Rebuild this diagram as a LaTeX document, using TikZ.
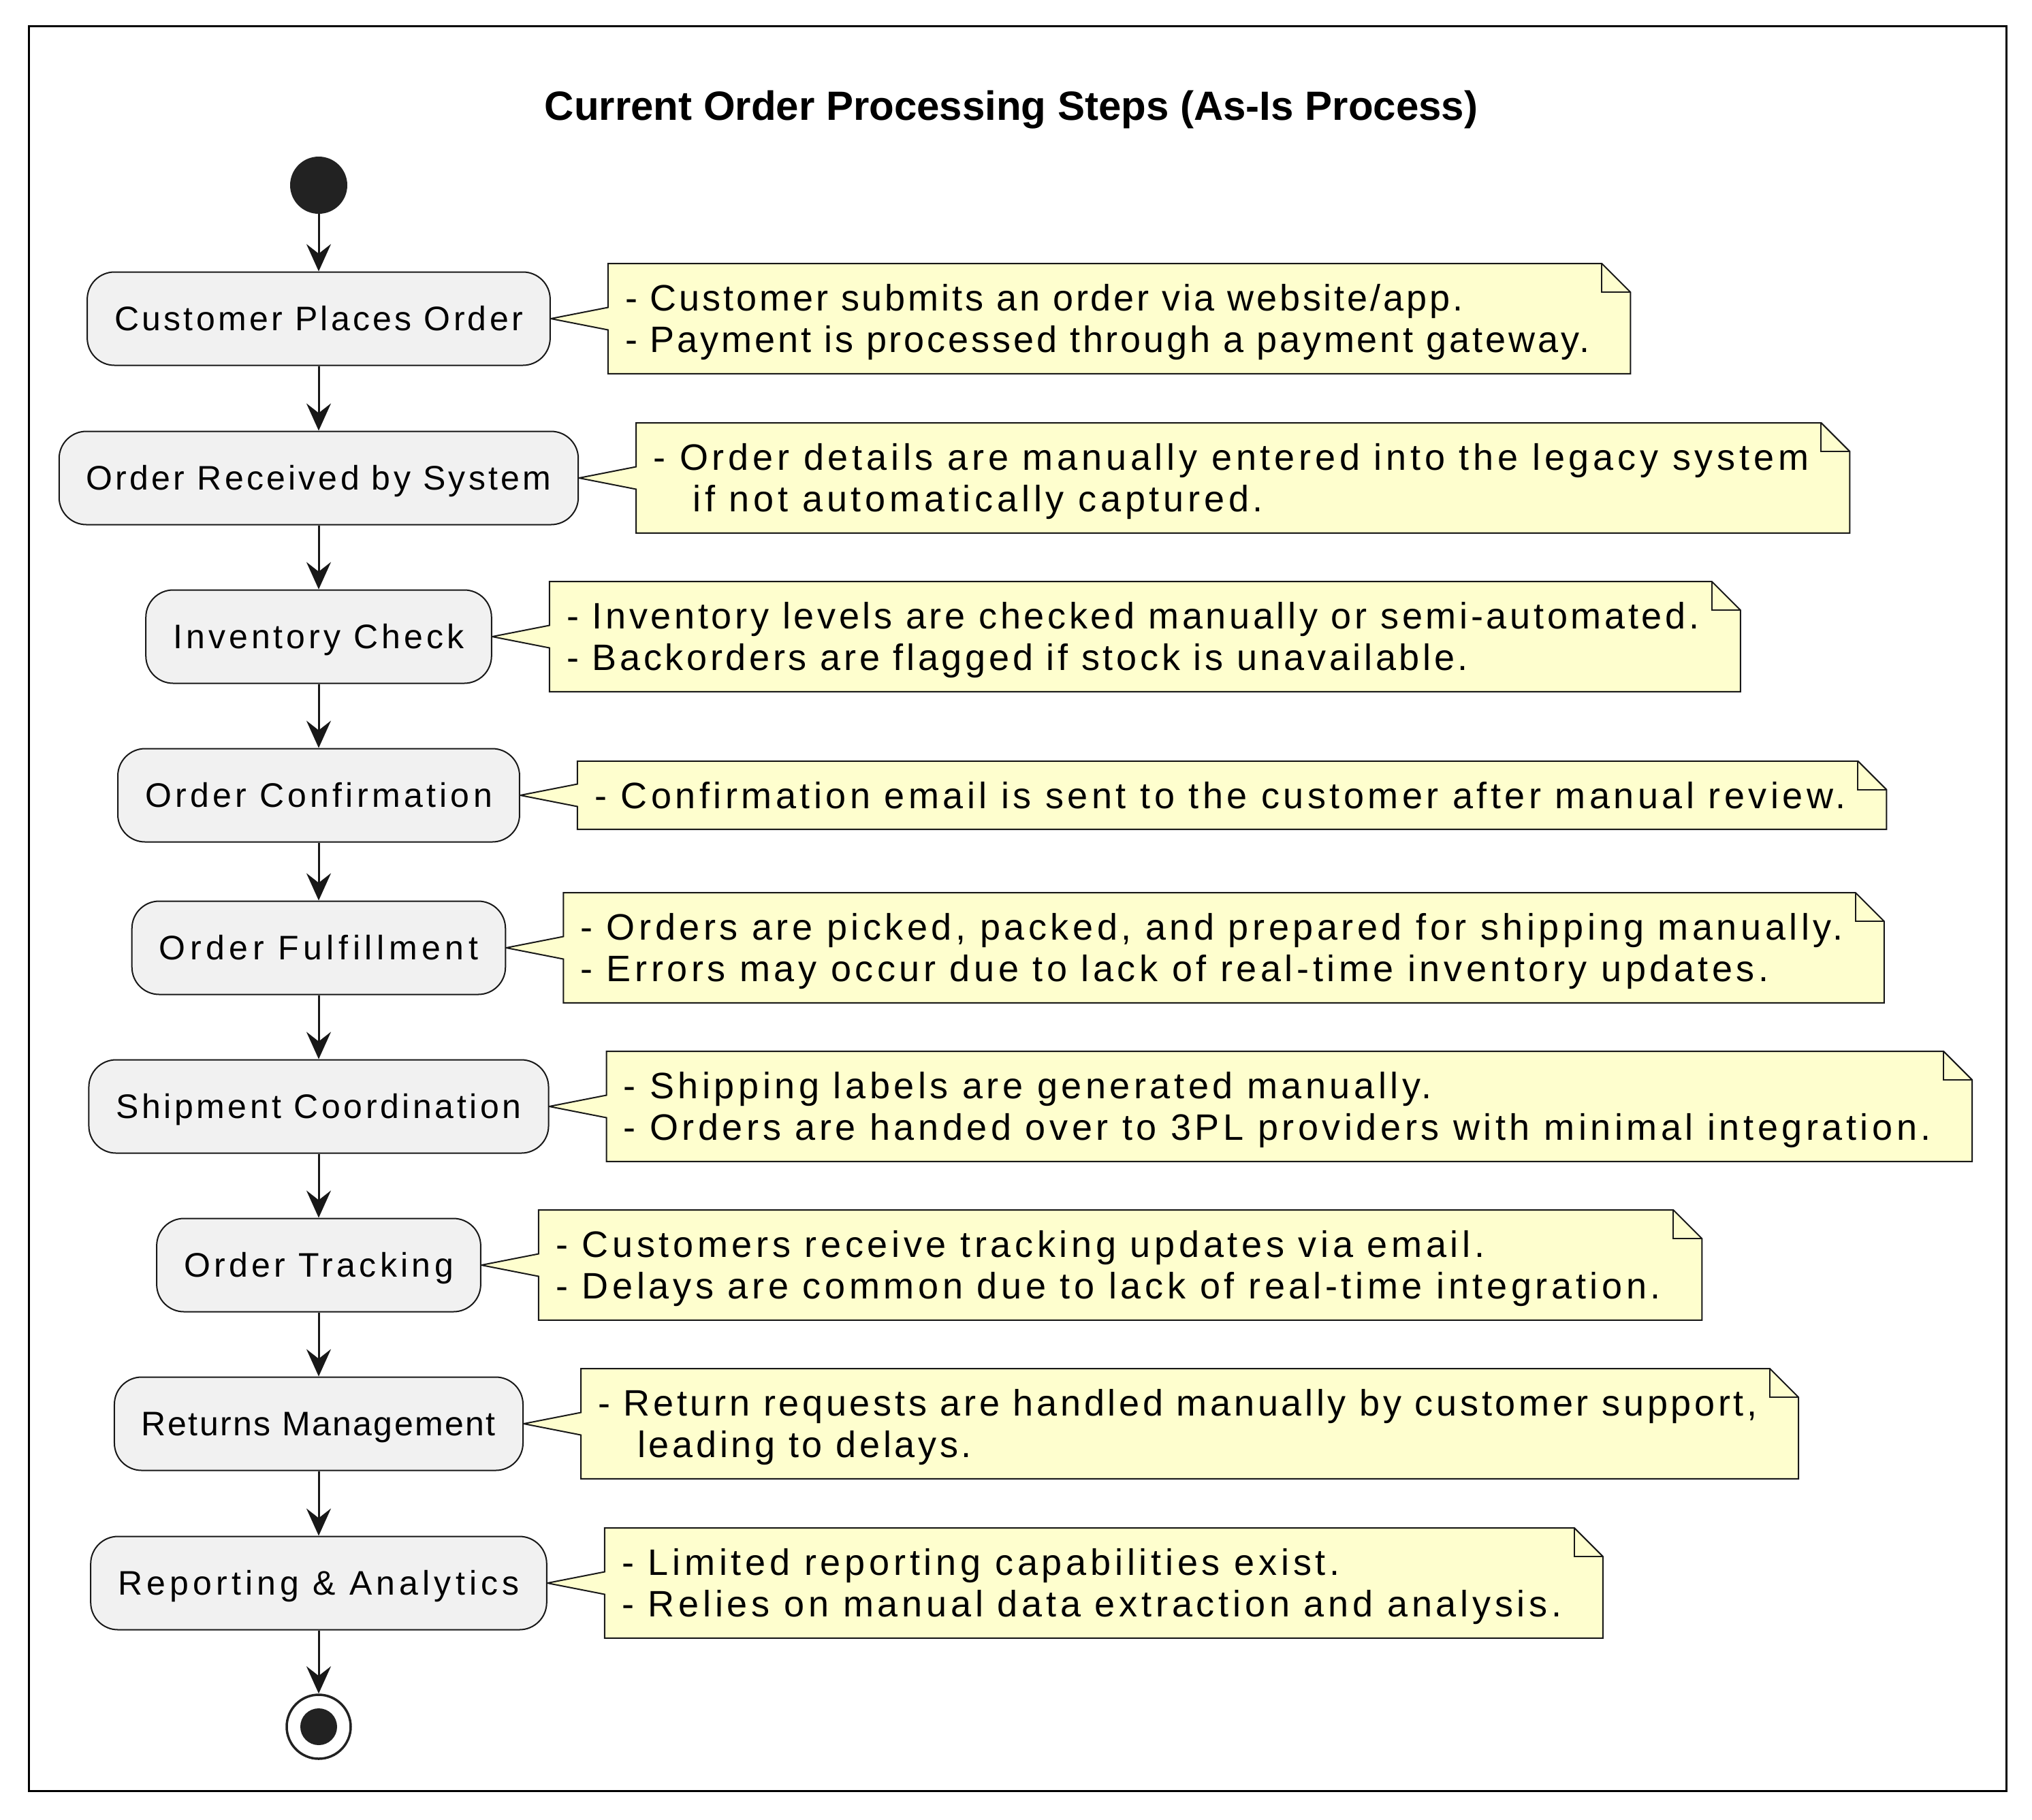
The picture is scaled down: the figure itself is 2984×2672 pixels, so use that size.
\documentclass[tikz,border=0pt]{standalone}
\usepackage{fontspec}
\setmainfont{Liberation Sans}
\usetikzlibrary{arrows.meta,calc,backgrounds}
\definecolor{notebg}{HTML}{FEFECE}
\definecolor{actbg}{HTML}{F1F1F1}
\definecolor{ln}{HTML}{181818}
\definecolor{dotc}{HTML}{222222}
\newcommand{\nst}{\rule[-11pt]{0pt}{60pt}}
\newcommand{\af}[1]{\fontspec[LetterSpace=#1]{Liberation Sans}\fontsize{50}{60}\selectfont}
\newcommand{\nf}[1]{\fontspec[LetterSpace=#1]{Liberation Sans}\fontsize{54}{60}\selectfont}
\newcommand{\notebox}[2]{%
  \begin{scope}[on background layer]
  \draw[noteshape] ($(#1.north west)+(-25,-20)$) -- ($(#1.north east)+(18,-20)$)
    -- ($(#1.north east)+(60,22)$) -- ($(#1.south east)+(60,20)$)
    -- ($(#1.south west)+(-25,20)$) -- ($(#1.west |- #2.east)+(-25,16.5)$)
    -- (#2.east) -- ($(#1.west |- #2.east)+(-25,-16.5)$) -- cycle;
  \draw[noteshape,fill=none] ($(#1.north east)+(18,-20)$) -- ($(#1.north east)+(18,22)$) -- ($(#1.north east)+(60,22)$);
  \end{scope}}
\begin{document}
\begin{tikzpicture}[x=1pt,y=-1pt,
  act/.style={rectangle, rounded corners=40pt, draw=ln, fill=actbg, line width=2pt,
    minimum height=137pt, inner xsep=40pt, inner ysep=0pt,
    font=\af{#1}, text height=45pt, text depth=11pt},
  notetext/.style={inner sep=0pt, align=left, anchor=west, font=\nf{#1}},
  noteshape/.style={draw=ln, fill=notebg, line width=2pt, line join=miter},
  arr/.style={draw=ln, line width=3pt, -{Stealth[length=40pt,width=36pt,inset=14pt]}}]
\useasboundingbox (0,0) rectangle (2984,2672);
\draw[line width=3pt, black] (42,38) rectangle (2946,2630);
\node[font=\bfseries\fontsize{60}{70}\selectfont, anchor=base] (title) at (1485,176) {Current Order Processing Steps (As-Is Process)};

\node[circle, fill=dotc, minimum size=84pt, inner sep=0pt] (start) at (468,272) {};
\node[act=8.6] (a1) at (468,468) {Customer Places Order};
\node[act=8.5] (a2) at (468,702) {Order Received by System};
\node[act=10.2] (a3) at (468,935) {Inventory Check};
\node[act=10.6] (a4) at (468,1168) {Order Confirmation};
\node[act=13.2] (a5) at (468,1392) {Order Fulfillment};
\node[act=9.1] (a6) at (468,1625) {Shipment Coordination};
\node[act=10.7] (a7) at (468,1858) {Order Tracking};
\node[act=4.9] (a8) at (468,2091) {Returns Management};
\node[act=12.4] (a9) at (468,2325) {Reporting \& Analytics};
\node[circle, draw=dotc, line width=3.5pt, fill=white, minimum size=94pt, inner sep=0pt] (stop) at (468,2536) {};
\fill[dotc] (stop.center) circle (27pt);

\draw[arr] (start) -- (a1);
\draw[arr] (a1) -- (a2);
\draw[arr] (a2) -- (a3);
\draw[arr] (a3) -- (a4);
\draw[arr] (a4) -- (a5);
\draw[arr] (a5) -- (a6);
\draw[arr] (a6) -- (a7);
\draw[arr] (a7) -- (a8);
\draw[arr] (a8) -- (a9);
\draw[arr] (a9) -- (stop);

\node[notetext=7.2] (n1) at ($(a1.east)+(109,0)$) {\nst- Customer submits an order via website/app.\\\nst- Payment is processed through a payment gateway.};
\node[notetext=10.7] (n2) at ($(a2.east)+(109,0)$) {\nst- Order details are manually entered into the legacy system\\\nst\hspace*{58pt}if not automatically captured.};
\node[notetext=8.7] (n3) at ($(a3.east)+(109,0)$) {\nst- Inventory levels are checked manually or semi-automated.\\\nst- Backorders are flagged if stock is unavailable.};
\node[notetext=10.2] (n4) at ($(a4.east)+(109,0)$) {\nst- Confirmation email is sent to the customer after manual review.};
\node[notetext=10.3] (n5) at ($(a5.east)+(109,0)$) {\nst- Orders are picked, packed, and prepared for shipping manually.\\\nst- Errors may occur due to lack of real-time inventory updates.};
\node[notetext=10.3] (n6) at ($(a6.east)+(109,0)$) {\nst- Shipping labels are generated manually.\\\nst- Orders are handed over to 3PL providers with minimal integration.};
\node[notetext=10.5] (n7) at ($(a7.east)+(109,0)$) {\nst- Customers receive tracking updates via email.\\\nst- Delays are common due to lack of real-time integration.};
\node[notetext=8.7] (n8) at ($(a8.east)+(109,0)$) {\nst- Return requests are handled manually by customer support,\\\nst\hspace*{58pt}leading to delays.};
\node[notetext=10.7] (n9) at ($(a9.east)+(109,0)$) {\nst- Limited reporting capabilities exist.\\\nst- Relies on manual data extraction and analysis.};

\notebox{n1}{a1}
\notebox{n2}{a2}
\notebox{n3}{a3}
\notebox{n4}{a4}
\notebox{n5}{a5}
\notebox{n6}{a6}
\notebox{n7}{a7}
\notebox{n8}{a8}
\notebox{n9}{a9}
\end{tikzpicture}
\end{document}
